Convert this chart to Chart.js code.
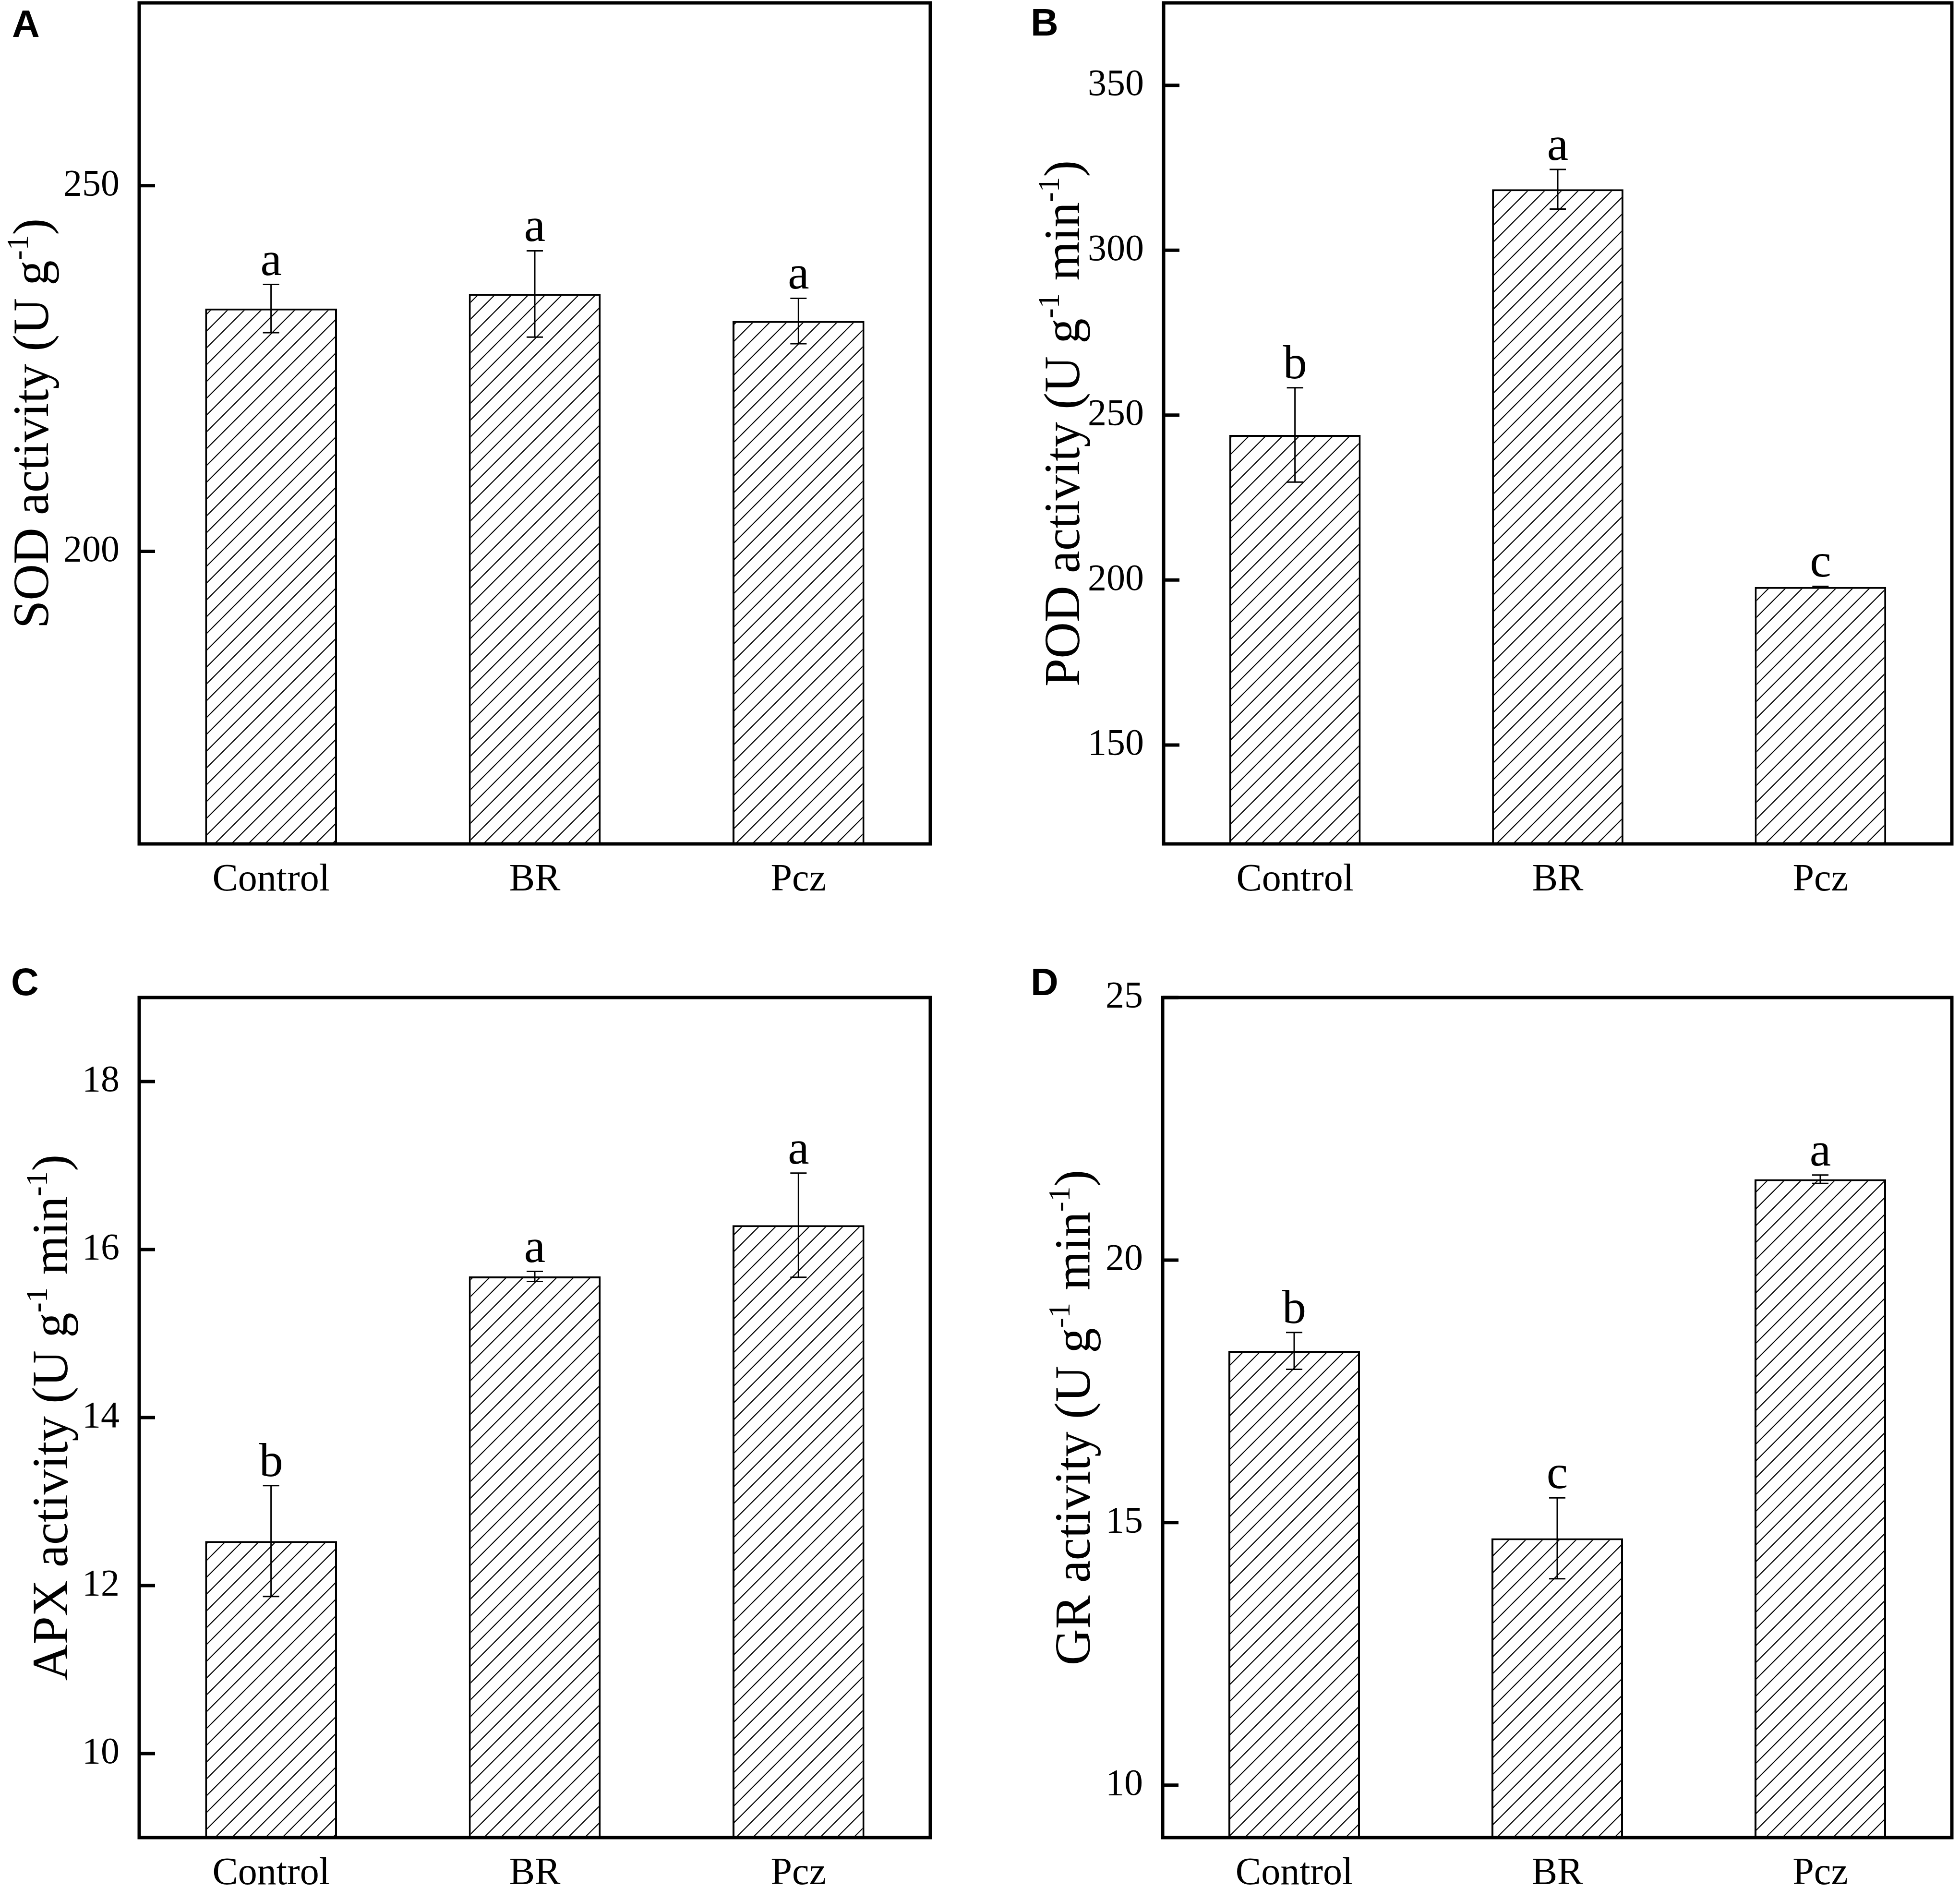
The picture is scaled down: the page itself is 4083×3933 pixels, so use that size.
<!DOCTYPE html>
<html>
<head>
<meta charset="utf-8">
<script src="https://cdn.jsdelivr.net/npm/chart.js@4.4.1/dist/chart.umd.min.js"></script>
<style>
html, body { margin: 0; padding: 0; background: #fff; }
#wrap { position: relative; width: 4083px; height: 3933px; overflow: hidden; background: #fff; }
canvas { position: absolute; }
</style>
</head>
<body>
<div id="wrap">
  <canvas id="chart-sod" width="2040" height="1966" style="left:0px;top:0px"></canvas>
  <canvas id="chart-pod" width="2043" height="1966" style="left:2040px;top:0px"></canvas>
  <canvas id="chart-apx" width="2040" height="1967" style="left:0px;top:1966px"></canvas>
  <canvas id="chart-gr" width="2043" height="1967" style="left:2040px;top:1966px"></canvas>
</div>
<script>
const categorias = ['Control', 'BR', 'Pcz'];

const sodMedia = [233.2, 235.2, 231.5];
const sodErro = [3.3, 5.9, 3.1];
const sodLetras = ['a', 'a', 'a'];
const sodTicks = [200, 250];

const podMedia = [244.0, 318.5, 197.9];
const podErro = [14.3, 6.0, 0.2];
const podLetras = ['b', 'a', 'c'];
const podTicks = [150, 200, 250, 300, 350];

const apxMedia = [12.53, 15.68, 16.29];
const apxErro = [0.66, 0.06, 0.62];
const apxLetras = ['b', 'a', 'a'];
const apxTicks = [10, 12, 14, 16, 18];

const grMedia = [18.27, 14.70, 21.54];
const grErro = [0.35, 0.77, 0.08];
const grLetras = ['b', 'c', 'a'];
const grTicks = [10, 15, 20, 25];

const serif = '"Liberation Serif", "Times New Roman", serif';

// hachura "/" usada nas barras
function hachura() {
    const s = 35;
    const c = document.createElement('canvas');
    c.width = s;
    c.height = s;
    const g = c.getContext('2d');
    g.fillStyle = '#fff';
    g.fillRect(0, 0, s, s);
    g.strokeStyle = '#000';
    g.lineWidth = 2.2;
    g.beginPath();
    g.moveTo(0, s); g.lineTo(s, 0);
    g.moveTo(-s / 4, s / 4); g.lineTo(s / 4, -s / 4);
    g.moveTo(3 * s / 4, 5 * s / 4); g.lineTo(5 * s / 4, 3 * s / 4);
    g.stroke();
    return g.createPattern(c, 'repeat');
}

function desenharTitulo(ctx, partes, x, cy, size) {
    const supSize = size * 0.6;
    let total = 0;
    partes.forEach(p => {
        ctx.font = `${p.sup ? supSize : size}px ${serif}`;
        total += ctx.measureText(p.t).width;
    });
    ctx.save();
    ctx.translate(x, cy);
    ctx.rotate(-Math.PI / 2);
    ctx.textAlign = 'left';
    ctx.textBaseline = 'alphabetic';
    let pos = -total / 2;
    partes.forEach(p => {
        ctx.font = `${p.sup ? supSize : size}px ${serif}`;
        ctx.fillText(p.t, pos, p.sup ? -size * 0.4 : 0);
        pos += ctx.measureText(p.t).width;
    });
    ctx.restore();
}

function painelPlugin(p) {
    return {
        id: 'painel',
        afterDatasetsDraw(chart) {
            const { ctx, chartArea: a } = chart;
            const y = chart.scales.y;
            const meta = chart.getDatasetMeta(0);
            ctx.save();
            ctx.strokeStyle = '#000';
            ctx.fillStyle = '#000';
            ctx.lineWidth = 3;
            p.media.forEach((m, i) => {
                const cx = meta.data[i].x;
                const yt = y.getPixelForValue(m + p.erro[i]);
                const yb = y.getPixelForValue(m - p.erro[i]);
                ctx.beginPath();
                ctx.moveTo(cx, yt); ctx.lineTo(cx, yb);
                ctx.moveTo(cx - 17, yt); ctx.lineTo(cx + 17, yt);
                ctx.moveTo(cx - 17, yb); ctx.lineTo(cx + 17, yb);
                ctx.stroke();
                ctx.font = `100px ${serif}`;
                ctx.textAlign = 'center';
                ctx.textBaseline = 'alphabetic';
                ctx.fillText(p.letras[i], cx, yt - 20);
            });
            ctx.lineWidth = 7;
            ctx.strokeRect(a.left, a.top, a.right - a.left, a.bottom - a.top);
            p.ticks.forEach(v => {
                const ty = y.getPixelForValue(v);
                ctx.beginPath();
                ctx.moveTo(a.left, ty);
                ctx.lineTo(a.left + 33, ty);
                ctx.stroke();
            });
            desenharTitulo(ctx, p.titulo, p.tituloX, (a.top + a.bottom) / 2, 105);
            ctx.font = 'bold 80px "Liberation Sans", Arial, sans-serif';
            ctx.textAlign = 'left';
            ctx.textBaseline = 'alphabetic';
            ctx.fillText(p.painel, p.letraX, p.letraY);
            ctx.restore();
        }
    };
}

function criarPainel(id, p) {
    const canvas = document.getElementById(id);
    const area = p.area;
    return new Chart(canvas, {
        type: 'bar',
        data: {
            labels: categorias,
            datasets: [{
                data: p.media,
                backgroundColor: hachura(),
                borderColor: '#000',
                borderWidth: 4,
                borderSkipped: false,
                barPercentage: 0.5,
                categoryPercentage: 1.0
            }]
        },
        options: {
            responsive: false,
            devicePixelRatio: 1,
            animation: false,
            layout: {
                padding: { left: 0, top: area.top, right: canvas.width - area.right, bottom: 0 }
            },
            plugins: {
                legend: { display: false },
                tooltip: { enabled: false }
            },
            scales: {
                x: {
                    grid: { display: false, drawTicks: false },
                    border: { display: false },
                    ticks: {
                        color: '#000',
                        font: { family: serif, size: 80 },
                        padding: 28,
                        maxRotation: 0
                    },
                    afterFit: s => {
                        s.height = canvas.height - area.bottom;
                        s.paddingLeft = 0;
                        s.paddingRight = 0;
                    }
                },
                y: {
                    min: p.min,
                    max: p.max,
                    grid: { display: false, drawTicks: false },
                    border: { display: false },
                    ticks: {
                        color: '#000',
                        font: { family: serif, size: 78 },
                        padding: 41
                    },
                    afterBuildTicks: s => { s.ticks = p.ticks.map(v => ({ value: v })); },
                    afterFit: s => {
                        s.width = area.left;
                        s.paddingTop = 0;
                        s.paddingBottom = 0;
                    }
                }
            }
        },
        plugins: [painelPlugin(p)]
    });
}

criarPainel('chart-sod', {
    media: sodMedia, erro: sodErro, letras: sodLetras, ticks: sodTicks,
    min: 160, max: 275,
    titulo: [{ t: 'SOD activity (U g' }, { t: '-1', sup: true }, { t: ')' }],
    painel: 'A',
    area: { left: 290, right: 1938, top: 6, bottom: 1758 },
    tituloX: 100, letraX: 25, letraY: 77
});

criarPainel('chart-pod', {
    media: podMedia, erro: podErro, letras: podLetras, ticks: podTicks,
    min: 120, max: 375,
    titulo: [{ t: 'POD activity (U g' }, { t: '-1', sup: true }, { t: ' min' }, { t: '-1', sup: true }, { t: ')' }],
    painel: 'B',
    area: { left: 384, right: 2026, top: 6, bottom: 1758 },
    tituloX: 208, letraX: 107, letraY: 74
});

criarPainel('chart-apx', {
    media: apxMedia, erro: apxErro, letras: apxLetras, ticks: apxTicks,
    min: 9, max: 19,
    titulo: [{ t: 'APX activity (U g' }, { t: '-1', sup: true }, { t: ' min' }, { t: '-1', sup: true }, { t: ')' }],
    painel: 'C',
    area: { left: 290, right: 1938, top: 112, bottom: 1862 },
    tituloX: 140, letraX: 23, letraY: 107
});

criarPainel('chart-gr', {
    media: grMedia, erro: grErro, letras: grLetras, ticks: grTicks,
    min: 9, max: 25,
    titulo: [{ t: 'GR activity (U g' }, { t: '-1', sup: true }, { t: ' min' }, { t: '-1', sup: true }, { t: ')' }],
    painel: 'D',
    area: { left: 382, right: 2026, top: 112, bottom: 1862 },
    tituloX: 230, letraX: 107, letraY: 107
});
</script>
</body>
</html>
